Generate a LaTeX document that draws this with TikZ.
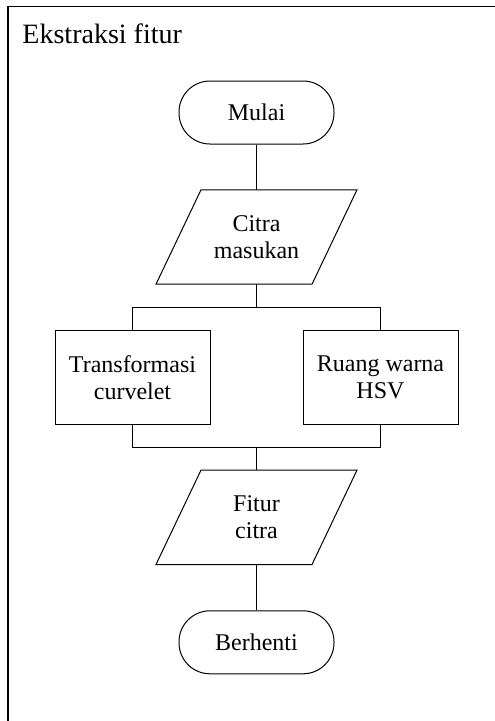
\documentclass[tikz,border=0pt]{standalone}
\usepackage{fontspec}
\setmainfont{Liberation Serif}
\begin{document}
\begin{tikzpicture}[x=1pt,y=1pt,
  line width=1pt,
  every node/.style={font=\fontsize{24}{27.6}\selectfont, align=center, inner sep=0pt},
  terminal/.style={draw, rounded corners=31pt, minimum width=155pt, minimum height=63pt},
  process/.style={draw, minimum width=155pt, minimum height=93.6pt},
  iobox/.style={minimum width=155pt, minimum height=93.4pt}]
  \useasboundingbox (0,0) rectangle (495,-721);

  % outer frame: only the top and left edges fall inside the page
  \draw[line width=1.3pt] (495,-6.3) -- (8,-6.3) -- (8,-721);
  \node[anchor=base west, font=\fontsize{28}{32}\selectfont] (title) at (22,-43.3) {Ekstraksi fitur};

  % flowchart nodes
  \node[terminal] (mulai) at (256.5,-112.5) {Mulai};
  \node[iobox] (citra) at (256.5,-237) {Citra\\masukan};
  \node[process] (trans) at (132.5,-377.5) {Transformasi\\curvelet};
  \node[process] (hsv) at (380.5,-377.5) {Ruang warna\\HSV};
  \node[iobox] (fitur) at (256.5,-517.3) {Fitur\\citra};
  \node[terminal] (stop) at (256.5,-642.3) {Berhenti};

  % parallelogram outlines of the input/output nodes
  \foreach \n in {citra,fitur}{
    \draw ([xshift=22.5pt]\n.north west) -- ([xshift=22.5pt]\n.north east)
      -- ([xshift=-22.5pt]\n.south east) -- ([xshift=-22.5pt]\n.south west) -- cycle;
  }

  % split and merge points
  \coordinate (split) at (256.5,-307.3);
  \coordinate (merge) at (256.5,-447.7);

  % connectors
  \draw (mulai.south) -- (citra.north);
  \draw (citra.south) -- (split);
  \draw (trans.north) |- (split) -| (hsv.north);
  \draw (trans.south) |- (merge) -| (hsv.south);
  \draw (merge) -- (fitur.north);
  \draw (fitur.south) -- (stop.north);
\end{tikzpicture}
\end{document}
